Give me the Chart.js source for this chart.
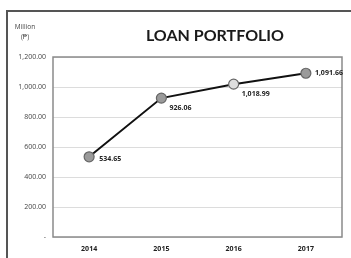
<!DOCTYPE html>
<html>
<head>
<meta charset="utf-8">
<script src="https://cdn.jsdelivr.net/npm/chart.js@4"></script>
<style>
  html, body { margin: 0; padding: 0; background: #fff; }
  #wrap { position: relative; width: 351px; height: 258px; overflow: hidden; }
  #frame {
    position: absolute; left: 6px; top: 10px; width: 360px; height: 270px;
    border: 2px solid #555; box-sizing: border-box;
  }
  canvas { position: absolute; left: 0; top: 0; }
</style>
</head>
<body>
<div id="wrap">
  <div id="frame"></div>
  <canvas id="lineGraph" width="351" height="258"></canvas>
</div>
<script>
const years = ["2014", "2015", "2016", "2017"];
const loans = [534.65, 926.06, 1018.99, 1091.66];
const pointFills = ["#9a9a9a", "#9a9a9a", "#dedede", "#9a9a9a"];

const fmt = (v) =>
  v.toLocaleString("en-US", { minimumFractionDigits: 2, maximumFractionDigits: 2 });

// title, unit label, box border and value labels
const extras = {
  id: "extras",
  afterDraw(chart) {
    const c = chart.ctx;
    const a = chart.chartArea;
    c.save();
    c.strokeStyle = "#8a8a8a";
    c.lineWidth = 1.5;
    c.strokeRect(a.left, a.top, a.right - a.left, a.bottom - a.top);

    c.fillStyle = "#1a1a1a";
    c.textAlign = "center";
    c.textBaseline = "middle";
    c.font = "bold 16px Lato, 'Open Sans', sans-serif";
    c.fillText("LOAN PORTFOLIO", 215, 36);

    c.fillStyle = "#444";
    c.font = "6.5px 'Open Sans', sans-serif";
    c.fillText("Million", 25, 27);
    c.fillText("(\u20B1)", 25, 37);

    const meta = chart.getDatasetMeta(0);
    c.fillStyle = "#222";
    c.textAlign = "left";
    c.font = "bold 7px 'Open Sans', sans-serif";
    const offs = [[10, 2], [8, 10], [8, 10], [9, 0]];
    meta.data.forEach((pt, i) => {
      c.fillText(fmt(loans[i]), pt.x + offs[i][0], pt.y + offs[i][1]);
    });
    c.restore();
  },
};

const lineGraph = document.getElementById("lineGraph").getContext("2d");
const myLineGraph = new Chart(lineGraph, {
  type: "line",
  data: {
    labels: years,
    datasets: [
      {
        data: loans,
        borderColor: "#111",
        borderWidth: 2,
        pointRadius: 5,
        pointBackgroundColor: pointFills,
        pointBorderColor: "#666",
        pointBorderWidth: 1.2,
        tension: 0,
      },
    ],
  },
  options: {
    responsive: false,
    animation: false,
    events: [],
    layout: { padding: { top: 57, right: 9, left: 0, bottom: 0 } },
    plugins: {
      legend: { display: false },
      tooltip: { enabled: false },
    },
    scales: {
      x: {
        offset: true,
        afterFit: (s) => { s.height = 21; },
        grid: { display: false, drawTicks: false },
        border: { display: false },
        ticks: {
          padding: 8,
          color: "#222",
          font: { family: "'Open Sans', sans-serif", size: 7, weight: "bold" },
        },
      },
      y: {
        min: 0,
        max: 1200,
        afterFit: (s) => { s.width = 53; },
        grid: { color: "#dcdcdc", lineWidth: 1, drawTicks: false },
        border: { display: false },
        ticks: {
          stepSize: 200,
          padding: 7,
          color: "#444",
          font: { family: "'Open Sans', sans-serif", size: 7 },
          callback: (v) => (v === 0 ? "-" : fmt(v)),
        },
      },
    },
  },
  plugins: [extras],
});
</script>
</body>
</html>
